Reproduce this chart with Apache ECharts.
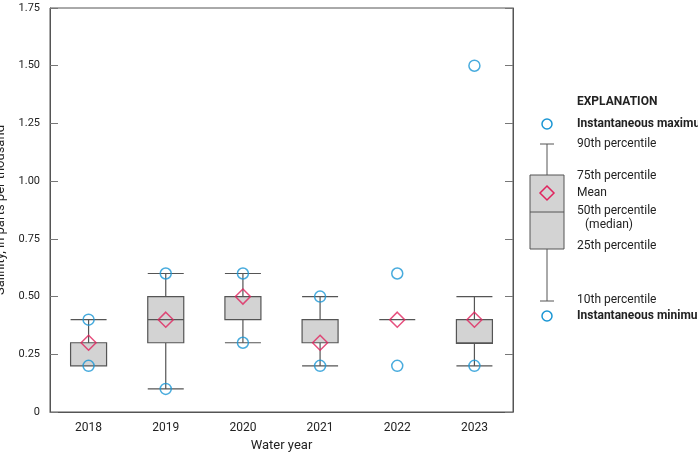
<!DOCTYPE html>
<html><head><meta charset="utf-8">
<script src="https://cdn.jsdelivr.net/npm/echarts@6/dist/echarts.min.js"></script>
<style>html,body{margin:0;padding:0;background:#fff}#c{width:698px;height:453px}</style>
</head><body><div id="c"></div>
<script>
const years = ['2018','2019','2020','2021','2022','2023'];
const p10 = [0.2,0.1,0.3,0.2,0.4,0.2];
const q1 = [0.2,0.3,0.4,0.3,0.4,0.297];
const median = [0.2,0.4,0.4,0.3,0.4,0.3];
const q3 = [0.3,0.5,0.5,0.4,0.4,0.4];
const p90 = [0.4,0.6,0.6,0.5,0.4,0.5];
const means = [0.3,0.4,0.5,0.3,0.4,0.4];
const maxs = [0.4,0.6,0.6,0.5,0.6,1.5];
const mins = [0.2,0.1,0.3,0.2,0.2,0.2];
const yTicks = [0,0.25,0.5,0.75,1.0,1.25,1.5,1.75];

const F = '"Liberation Sans Narrow", Roboto, "Liberation Sans", sans-serif';
const chart = echarts.init(document.getElementById('c'));
const txt = (x,y,t,bold)=>({type:'text',left:x,top:y,style:{text:t,font:(bold?'bold ':'')+'12px '+F,fill:'#222'}});
const lx=547;
chart.setOption({
  animation:false,
  grid:{left:50,right:185,top:8,bottom:41,outerBoundsMode:'none',containLabel:false,show:true,borderColor:'#555',borderWidth:1},
  xAxis:{type:'category',data:years,axisTick:{show:false},axisLine:{lineStyle:{color:'#555'}},
    axisLabel:{color:'#222',fontFamily:F,fontSize:12,margin:10},
    name:'Water year',nameLocation:'middle',nameGap:27,nameTextStyle:{color:'#222',fontFamily:F,fontSize:13}},
  yAxis:[{type:'value',min:0,max:1.75,interval:0.25,splitLine:{show:false},
    axisLine:{show:true,lineStyle:{color:'#555'}},axisTick:{show:true,inside:true,length:8,lineStyle:{color:'#777'}},
    axisLabel:{color:'#222',fontFamily:F,fontSize:11,margin:10,formatter:v=>v===0?'0':v.toFixed(2)},
    name:'Salinity, in parts per thousand',nameLocation:'middle',nameGap:34,nameTextStyle:{color:'#222',fontFamily:F,fontSize:13}},
    {type:'value',min:0,max:1.75,interval:0.25,position:'right',splitLine:{show:false},
    axisLine:{show:true,lineStyle:{color:'#555'}},axisTick:{show:true,inside:true,length:8,lineStyle:{color:'#777'}},axisLabel:{show:false}}],
  series:[
    {type:'boxplot',boxWidth:[36,36],data:years.map((y,i)=>[p10[i],q1[i],median[i],q3[i],p90[i]]),
     itemStyle:{color:'#d3d3d3',borderColor:'#555',borderWidth:1.2}},
    {type:'scatter',data:maxs.map((v,i)=>[i,v]),symbol:'circle',symbolSize:11,itemStyle:{color:'rgba(0,0,0,0)',borderColor:'#1a96d4',borderWidth:1.5},z:5},
    {type:'scatter',data:mins.map((v,i)=>[i,v]),symbol:'circle',symbolSize:11,itemStyle:{color:'rgba(0,0,0,0)',borderColor:'#1a96d4',borderWidth:1.5},z:5},
    {type:'scatter',data:means.map((v,i)=>[i,v]),symbol:'diamond',symbolSize:[15,15],itemStyle:{color:'rgba(0,0,0,0)',borderColor:'#e0245e',borderWidth:1.5},z:6}
  ],
  graphic:[
    txt(577,96,'EXPLANATION',true),
    {type:'circle',shape:{cx:lx,cy:124,r:5},style:{fill:'none',stroke:'#1a96d4',lineWidth:1.5}},
    txt(577,118,'Instantaneous maximum',true),
    {type:'line',shape:{x1:lx-7,y1:144,x2:lx+7,y2:144},style:{stroke:'#555'}},
    {type:'line',shape:{x1:lx,y1:144,x2:lx,y2:175},style:{stroke:'#555'}},
    txt(577,138,'90th percentile'),
    {type:'rect',shape:{x:530,y:175,width:34,height:74},style:{fill:'#d3d3d3',stroke:'#555'}},
    {type:'line',shape:{x1:530,y1:212,x2:564,y2:212},style:{stroke:'#555'}},
    {type:'polygon',shape:{points:[[lx,186],[lx+7,193],[lx,200],[lx-7,193]]},style:{fill:'none',stroke:'#e0245e',lineWidth:1.5}},
    txt(577,170,'75th percentile'),
    txt(577,187,'Mean'),
    txt(577,205,'50th percentile'),
    txt(585,219,'(median)'),
    txt(577,240,'25th percentile'),
    {type:'line',shape:{x1:lx,y1:249,x2:lx,y2:301},style:{stroke:'#555'}},
    {type:'line',shape:{x1:lx-7,y1:301,x2:lx+7,y2:301},style:{stroke:'#555'}},
    txt(577,294,'10th percentile'),
    {type:'circle',shape:{cx:lx,cy:316,r:5},style:{fill:'none',stroke:'#1a96d4',lineWidth:1.5}},
    txt(577,310,'Instantaneous minimum',true)
  ]
});
</script></body></html>
